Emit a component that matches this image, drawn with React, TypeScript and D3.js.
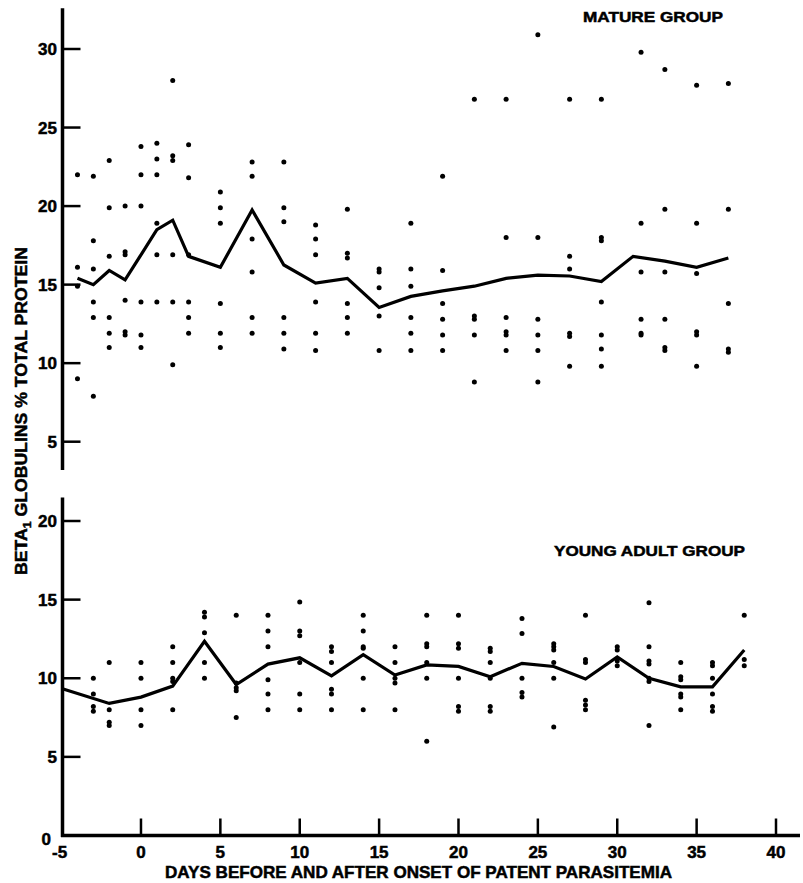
import React from "react";
import * as d3 from "d3";

// ---- Mature group: individual observations ----
const matureDotDays = [-4, -3, -2, -1, 0, 1, 2, 3, 5, 7, 9, 11, 13, 15, 17, 19, 21, 23, 25, 27, 29, 31.5, 33, 35, 37];
const matureDotValues = [
  [22, 16.1, 14.9, 9],
  [21.9, 17.8, 16.0, 13.9, 12.9, 7.9],
  [22.9, 19.9, 16.8, 12.9, 11.9, 11.0],
  [20, 17.1, 16.9, 14, 12, 11.8],
  [23.8, 22, 20, 13.9, 11.8, 11],
  [24, 23, 22, 18.9, 16.9, 13.9],
  [28, 23.2, 22.9, 16.9, 13.9, 9.9],
  [23.9, 21.8, 16.9, 13.9, 12.9, 11.9],
  [20.9, 19.9, 18.9, 13.8, 11.9, 11],
  [22.8, 21.9, 17.9, 15.8, 12.9, 11.9],
  [22.8, 19.9, 19, 12.9, 11.9, 10.9],
  [18.8, 17.9, 16.9, 13.9, 11.9, 10.8],
  [19.8, 17, 16.7, 13.8, 12.9, 11.9],
  [16, 15.8, 14.8, 13, 10.8],
  [18.9, 16, 14.9, 12.9, 11.9, 10.8],
  [21.9, 15.9, 13.8, 12.8, 11.8, 10.8],
  [26.8, 13, 12.8, 11.8, 8.8],
  [26.8, 18, 12.9, 12, 11.8, 10.8],
  [30.9, 18, 12.8, 11.8, 10.8, 8.8],
  [26.8, 16.8, 16, 11.9, 11.7, 9.8],
  [26.8, 18, 17.8, 13.9, 11.8, 10.9, 9.8],
  [29.8, 18.9, 15.8, 12.8, 11.9, 11.8],
  [28.7, 19.8, 15.8, 12.8, 11, 10.8],
  [27.7, 18.9, 15.7, 12, 11.8, 9.8],
  [27.8, 19.8, 13.8, 10.9, 10.7],
];
// ---- Mature group: mean line ----
const matureMeanDays = [-4, -3, -2, -1, 0, 1, 2, 3, 5, 7, 9, 11, 13, 15, 17, 19, 21, 23, 25, 27, 29, 31, 33, 35, 37];
const matureMeanValues = [15.4, 15.0, 15.9, 15.3, 16.9, 18.5, 19.1, 16.8, 16.1, 19.75, 16.25, 15.1, 15.4, 13.55, 14.25, 14.6, 14.9, 15.4, 15.6, 15.55, 15.2, 16.8, 16.5, 16.1, 16.7];

// ---- Young adult group: individual observations ----
const youngDotDays = [-3, -2, 0, 2, 4, 6, 8, 10, 12, 14, 16, 18, 20, 22, 24, 26, 28, 30, 32, 34, 36, 38];
const youngDotValues = [
  [10, 9, 8.2, 7.9],
  [11, 8, 7.2, 7.0],
  [11, 10, 8, 7],
  [12, 11, 10, 9.8, 8],
  [14.2, 13.9, 12.9, 11, 10],
  [14, 9.7, 9.4, 9.2, 7.5],
  [14, 13, 12, 9.9, 9, 8],
  [14.85, 13, 12.7, 11, 9, 8],
  [12, 11.7, 11, 9.3, 9, 8],
  [14, 13, 12, 11.9, 10, 8],
  [12, 11, 10, 9.7, 8],
  [14, 12.2, 12, 11, 10, 6],
  [14, 12.2, 11.9, 10, 8.2, 7.9],
  [11.9, 11.7, 11, 10, 8.2, 7.9],
  [13.8, 12.85, 10, 9.1, 8.8],
  [12.2, 12, 11.8, 11, 10, 6.9],
  [14, 11.2, 11, 8.6, 8.3, 8.0],
  [12, 11.8, 11.1, 10.8],
  [14.8, 12, 11.1, 10.9, 10, 9.8, 7],
  [11, 10.1, 9.9, 9, 8.8, 8],
  [11, 10.8, 10, 9, 8.2, 7.9],
  [14, 11.2, 10.8],
];
// ---- Young adult group: mean line ----
const youngMeanDays = [-5, -2, 0, 2, 4, 6, 8, 10, 12, 14, 16, 18, 20, 22, 24, 26, 28, 30, 32, 34, 36, 38];
const youngMeanValues = [9.35, 8.4, 8.8, 9.5, 12.35, 9.6, 10.9, 11.3, 10.15, 11.5, 10.2, 10.85, 10.75, 10.1, 10.95, 10.75, 9.95, 11.35, 10.0, 9.45, 9.45, 11.8];

// ---- Tick labels ----
const xTicks = [-5, 0, 5, 10, 15, 20, 25, 30, 35, 40];
const matureYTicks = [5, 10, 15, 20, 25, 30];
const youngYTicks = [0, 5, 10, 15, 20];

const FONT = "'Liberation Sans', Arial, Helvetica, sans-serif";

export default function App() {
  const W = 803, H = 883;
  const x = d3.scaleLinear().domain([-5, 40]).range([61.6, 776]);
  const yTop = d3.scaleLinear().domain([5, 30]).range([441.7, 49]);
  const yBot = d3.scaleLinear().domain([0, 20]).range([835.5, 521]);
  const axisX = 62.5;

  const lineTop = d3.line<number>().x((_, i) => x(matureMeanDays[i])).y((v) => yTop(v));
  const lineBot = d3.line<number>().x((_, i) => x(youngMeanDays[i])).y((v) => yBot(v));

  const tickLen = 18;
  const labelStyle = { fontFamily: FONT, fontWeight: 700, fill: "#000", stroke: "#000", strokeWidth: 0.5 } as const;
  const dotR = 2.5;

  return (
    <svg width={W} height={H} style={{ position: "absolute", left: 0, top: 0, background: "#fff" }}>
      <rect width={W} height={H} fill="#fff" />

      {/* ---------- TOP PANEL (Mature) ---------- */}
      <line x1={axisX} x2={axisX} y1={yTop(32.6)} y2={yTop(3.2)} stroke="#000" strokeWidth={3.5} />
      {matureYTicks.map((t) => (
        <g key={"mt" + t}>
          <line x1={axisX} x2={axisX + tickLen} y1={yTop(t)} y2={yTop(t)} stroke="#000" strokeWidth={2.5} />
          <text x={57} y={yTop(t)} dy="0.36em" textAnchor="end" fontSize={17} {...labelStyle}>{t}</text>
        </g>
      ))}
      {matureDotDays.map((d, i) =>
        matureDotValues[i].map((v, j) => (
          <circle key={`md${i}-${j}`} cx={x(d)} cy={yTop(v)} r={dotR} fill="#000" />
        ))
      )}
      <path d={lineTop(matureMeanValues) || ""} fill="none" stroke="#000" strokeWidth={3.2} strokeLinejoin="miter" />
      <text x={583} y={22} fontSize={15} textLength={140} lengthAdjust="spacingAndGlyphs" {...labelStyle}>MATURE GROUP</text>

      {/* ---------- BOTTOM PANEL (Young adult) ---------- */}
      <line x1={axisX} x2={axisX} y1={yBot(21.5)} y2={yBot(0) + 1.5} stroke="#000" strokeWidth={3.5} />
      <line x1={axisX - 1.5} x2={800} y1={yBot(0)} y2={yBot(0)} stroke="#000" strokeWidth={3.5} />
      {youngYTicks.filter((t) => t > 0).map((t) => (
        <g key={"yt" + t}>
          <line x1={axisX} x2={axisX + tickLen} y1={yBot(t)} y2={yBot(t)} stroke="#000" strokeWidth={2.5} />
          <text x={57} y={yBot(t)} dy="0.36em" textAnchor="end" fontSize={17} {...labelStyle}>{t}</text>
        </g>
      ))}
      <text x={51} y={yBot(0) + 3} dy="0.36em" textAnchor="end" fontSize={17} {...labelStyle}>0</text>
      {xTicks.map((t) => (
        <g key={"xt" + t}>
          {t > -5 && (
            <line x1={x(t)} x2={x(t)} y1={yBot(0)} y2={yBot(0) - 17} stroke="#000" strokeWidth={2.5} />
          )}
          <text x={t === -5 ? x(t) - 2 : x(t)} y={858} textAnchor="middle" fontSize={17} {...labelStyle}>{t}</text>
        </g>
      ))}
      {youngDotDays.map((d, i) =>
        youngDotValues[i].map((v, j) => (
          <circle key={`yd${i}-${j}`} cx={x(d)} cy={yBot(v)} r={dotR} fill="#000" />
        ))
      )}
      <path d={lineBot(youngMeanValues) || ""} fill="none" stroke="#000" strokeWidth={3.2} strokeLinejoin="miter" />
      <text x={554} y={556} fontSize={15} textLength={191} lengthAdjust="spacingAndGlyphs" {...labelStyle}>YOUNG ADULT GROUP</text>

      {/* ---------- Axis titles ---------- */}
      <text x={418.5} y={878} textAnchor="middle" fontSize={16.5} textLength={507} lengthAdjust="spacingAndGlyphs" {...labelStyle}>
        DAYS BEFORE AND AFTER ONSET OF PATENT PARASITEMIA
      </text>
      <g transform="translate(27, 411) rotate(-90)">
        <text x={0} y={0} textAnchor="middle" fontSize={16} textLength={328} lengthAdjust="spacingAndGlyphs" {...labelStyle}>
          BETA<tspan fontSize={11} dy={4}>1</tspan><tspan dy={-4}> GLOBULINS % TOTAL PROTEIN</tspan>
        </text>
      </g>
    </svg>
  );
}
